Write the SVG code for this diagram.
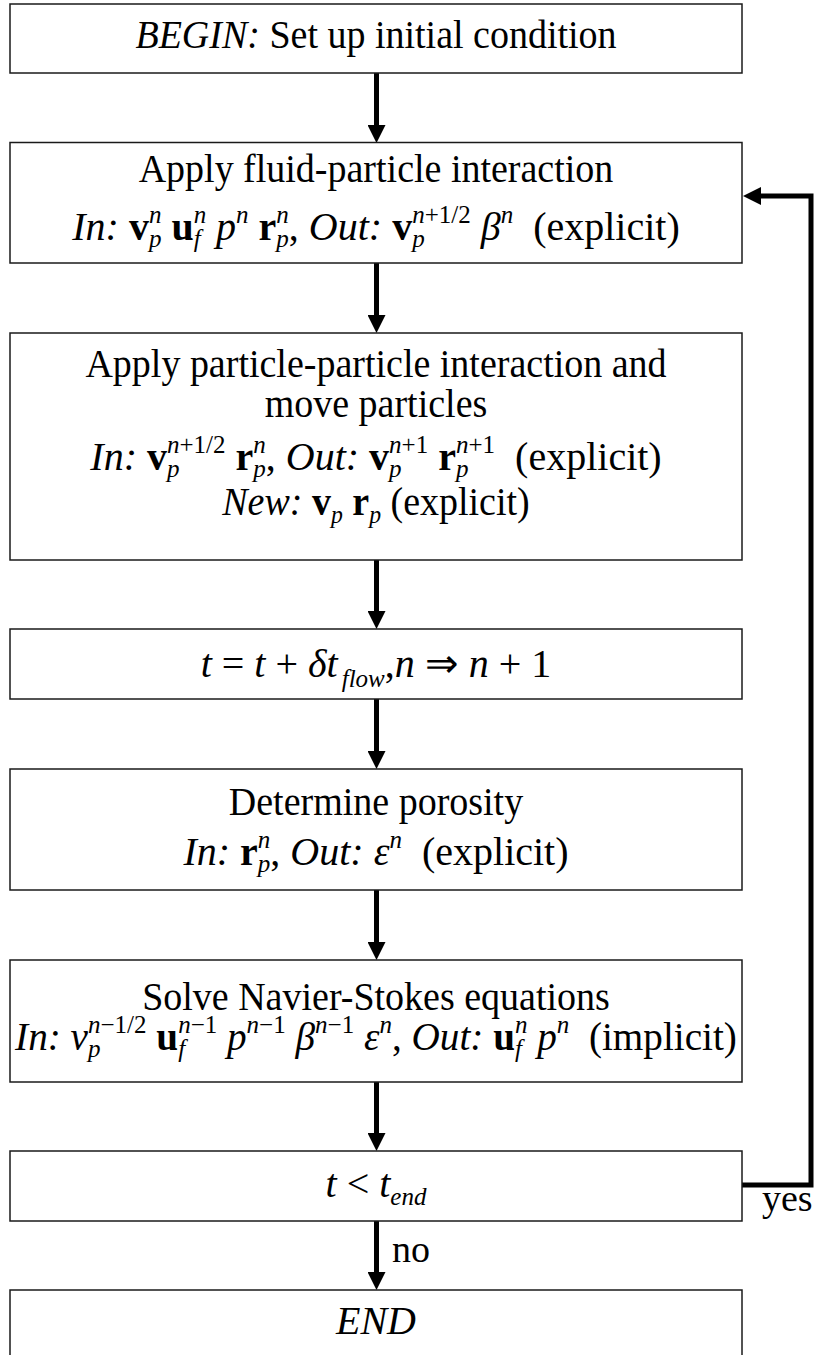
<svg xmlns="http://www.w3.org/2000/svg" width="814" height="1355" viewBox="0 0 814 1355">
<style>
.box{fill:#fff;stroke:#1a1a1a;stroke-width:1.5}
.conn{fill:none;stroke:#000;stroke-width:5}
.arr{marker-end:url(#ah)}
text{font-family:"Liberation Serif","Times New Roman",serif;font-size:38px;fill:#000}
.c{text-anchor:middle}
.tt{font-size:40px}
.m{font-size:40px}
.i{font-style:italic}
.b{font-weight:bold}
.s{font-size:25px}
</style>
<defs>
<marker id="ah" markerUnits="userSpaceOnUse" markerWidth="18" markerHeight="18" viewBox="0 0 18 18" refX="6" refY="9" orient="auto">
<path d="M0,0 L18,9 L0,18 Z" fill="#000"/>
</marker>
</defs>
<rect width="814" height="1355" fill="#fff"/>
<g id="connectors">
<path class="conn arr" d="M376.5,73 V131"/>
<path class="conn arr" d="M376.5,263 V321"/>
<path class="conn arr" d="M376.5,560 V617"/>
<path class="conn arr" d="M376.5,699 V757"/>
<path class="conn arr" d="M376.5,890 V948"/>
<path class="conn arr" d="M376.5,1082 V1139"/>
<path class="conn arr" d="M376.5,1221 V1278"/>
<path class="conn arr" d="M742,1185 H811 V196 H755"/>
<text x="762" y="1211">yes</text>
<text x="392" y="1262">no</text>
</g>
<g id="begin">
<rect class="box" x="10" y="4" width="732" height="69"/>
<text class="c tt" x="376" y="48" transform="matrix(0.95 0 0 1 18.8 0)"><tspan class="i">BEGIN:</tspan> Set up initial condition</text>
</g>
<g id="fluid-particle">
<rect class="box" x="10" y="142.5" width="732" height="120.5"/>
<text class="c tt" x="376" y="182" transform="matrix(0.95 0 0 1 18.8 0)">Apply fluid-particle interaction</text>
<text class="c m" x="376" y="240"><tspan class="i">In:</tspan> <tspan class="b">v</tspan><tspan class="s i" dy="-17">n</tspan><tspan class="s i" dx="-12.5" dy="24">p</tspan><tspan dy="-7"> </tspan><tspan class="b">u</tspan><tspan class="s i" dy="-17">n</tspan><tspan class="s i" dx="-12.5" dy="24">f</tspan><tspan dx="5.5" dy="-7"> </tspan><tspan class="i">p</tspan><tspan class="s i" dy="-17">n</tspan><tspan dy="17"> </tspan><tspan class="b">r</tspan><tspan class="s i" dy="-17">n</tspan><tspan class="s i" dx="-12.5" dy="24">p</tspan><tspan dy="-7">, </tspan><tspan class="i">Out:</tspan> <tspan class="b">v</tspan><tspan class="s" dy="-17"><tspan class="i">n</tspan>+1/2</tspan><tspan class="s i" dx="-58.6" dy="24">p</tspan><tspan dx="46.1" dy="-7"> </tspan><tspan class="i">β</tspan><tspan class="s i" dy="-17">n</tspan><tspan dy="17">&#160; (explicit)</tspan></text>
</g>
<g id="particle-particle">
<rect class="box" x="10" y="333" width="732" height="227"/>
<text class="c tt" x="376" y="377" transform="matrix(0.95 0 0 1 18.8 0)">Apply particle-particle interaction and</text>
<text class="c tt" x="376" y="417" transform="matrix(0.95 0 0 1 18.8 0)">move particles</text>
<text class="c m" x="376" y="470"><tspan class="i">In:</tspan> <tspan class="b">v</tspan><tspan class="s" dy="-17"><tspan class="i">n</tspan>+1/2</tspan><tspan class="s i" dx="-58.6" dy="24">p</tspan><tspan dx="46.1" dy="-7"> </tspan><tspan class="b">r</tspan><tspan class="s i" dy="-17">n</tspan><tspan class="s i" dx="-12.5" dy="24">p</tspan><tspan dy="-7">, </tspan><tspan class="i">Out:</tspan> <tspan class="b">v</tspan><tspan class="s" dy="-17"><tspan class="i">n</tspan>+1</tspan><tspan class="s i" dx="-39.1" dy="24">p</tspan><tspan dx="26.6" dy="-7"> </tspan><tspan class="b">r</tspan><tspan class="s" dy="-17"><tspan class="i">n</tspan>+1</tspan><tspan class="s i" dx="-39.1" dy="24">p</tspan><tspan dx="26.6" dy="-7">&#160; (explicit)</tspan></text>
<text class="c tt" x="376" y="515" transform="matrix(0.95 0 0 1 18.8 0)"><tspan class="i">New:</tspan> <tspan class="b">v</tspan><tspan class="s i" dy="8">p</tspan><tspan dy="-8"> </tspan><tspan class="b">r</tspan><tspan class="s i" dy="8">p</tspan><tspan dy="-8"> (explicit)</tspan></text>
</g>
<g id="time-step">
<rect class="box" x="10" y="629" width="732" height="70"/>
<text class="c m" x="376" y="677"><tspan class="i">t</tspan> = <tspan class="i">t</tspan> + <tspan class="i">δt</tspan><tspan class="s i" dx="4" dy="10">flow</tspan><tspan dy="-10">,</tspan><tspan class="i">n</tspan> ⇒ <tspan class="i">n</tspan> + 1</text>
</g>
<g id="porosity">
<rect class="box" x="10" y="769" width="732" height="121"/>
<text class="c tt" x="376" y="815" transform="matrix(0.95 0 0 1 18.8 0)">Determine porosity</text>
<text class="c m" x="376" y="865"><tspan class="i">In:</tspan> <tspan class="b">r</tspan><tspan class="s i" dy="-17">n</tspan><tspan class="s i" dx="-12.5" dy="24">p</tspan><tspan dy="-7">, </tspan><tspan class="i">Out:</tspan> <tspan class="i">ε</tspan><tspan class="s i" dy="-17">n</tspan><tspan dy="17">&#160; (explicit)</tspan></text>
</g>
<g id="navier-stokes">
<rect class="box" x="10" y="960" width="732" height="122"/>
<text class="c tt" x="376" y="1010" transform="matrix(0.95 0 0 1 18.8 0)">Solve Navier-Stokes equations</text>
<text class="c" x="376" y="1050" style="font-size:39.2px"><tspan class="i">In:</tspan> <tspan class="i">v</tspan><tspan class="s" dy="-17"><tspan class="i">n</tspan>−1/2</tspan><tspan class="s i" dx="-58.6" dy="24">p</tspan><tspan dx="46.1" dy="-7"> </tspan><tspan class="b">u</tspan><tspan class="s" dy="-17"><tspan class="i">n</tspan>−1</tspan><tspan class="s i" dx="-39.1" dy="24">f</tspan><tspan dx="32.1" dy="-7"> </tspan><tspan class="i">p</tspan><tspan class="s" dy="-17"><tspan class="i">n</tspan>−1</tspan><tspan dy="17"> </tspan><tspan class="i">β</tspan><tspan class="s" dy="-17"><tspan class="i">n</tspan>−1</tspan><tspan dy="17"> </tspan><tspan class="i">ε</tspan><tspan class="s i" dy="-17">n</tspan><tspan dy="17">, </tspan><tspan class="i">Out:</tspan> <tspan class="b">u</tspan><tspan class="s i" dy="-17">n</tspan><tspan class="s i" dx="-12.5" dy="24">f</tspan><tspan dx="5.5" dy="-7"> </tspan><tspan class="i">p</tspan><tspan class="s i" dy="-17">n</tspan><tspan dy="17">&#160; (implicit)</tspan></text>
</g>
<g id="check-end">
<rect class="box" x="10" y="1151" width="732" height="70"/>
<text class="c m" x="376" y="1197"><tspan class="i">t</tspan> &lt; <tspan class="i">t</tspan><tspan class="s i" dy="8">end</tspan></text>
</g>
<g id="end">
<rect class="box" x="10" y="1290" width="732" height="72"/>
<text class="c i tt" x="376" y="1334">END</text>
</g>
</svg>
